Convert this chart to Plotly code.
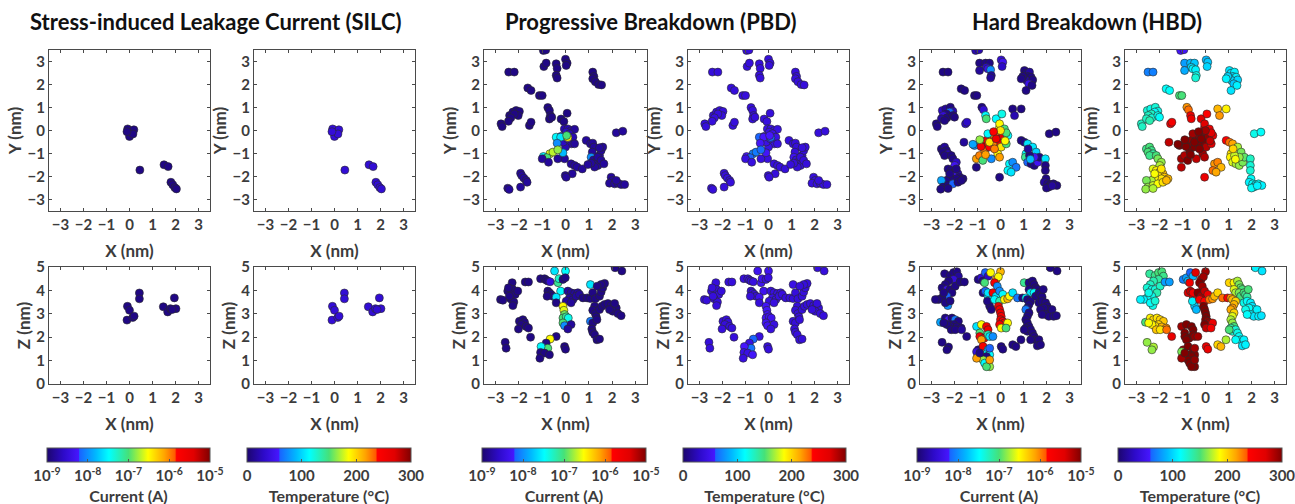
import plotly.graph_objects as go

# ---------------- data ----------------
# SILC
SILC_XY_X = [-0.08, 0.19, 0.00, 0.15, -0.11, 0.45, 1.50, 1.68, 1.80, 1.88, 1.97, 2.04]
SILC_XY_Y = [0.07, 0.03, -0.26, -0.15, -0.05, -1.72, -1.49, -1.57, -2.25, -2.36, -2.48, -2.54]
SILC_XY_I = [-8.9, -8.9, -8.9, -8.9, -8.9, -8.9, -8.9, -8.9, -8.9, -8.9, -8.9, -8.9]
SILC_XY_T = [38, 38, 38, 38, 38, 36, 36, 36, 36, 36, 36, 36]
SILC_XZ_X = [-0.09, 0.00, -0.11, 0.14, 0.20, 0.43, 0.43, 1.47, 1.66, 1.78, 1.95, 2.02, 1.85]
SILC_XZ_Z = [3.32, 3.15, 2.73, 2.84, 2.90, 3.89, 3.64, 3.30, 3.08, 3.22, 3.68, 3.22, 3.18]
SILC_XZ_I = [-8.9, -8.9, -8.9, -8.9, -8.9, -8.9, -8.9, -8.9, -8.9, -8.9, -8.9, -8.9, -8.9]
SILC_XZ_T = [38, 38, 38, 38, 38, 36, 36, 36, 36, 36, 36, 36, 36]

# PBD
PBD_XY_X = [-0.95, -0.85, -0.93, -0.83, -0.40, -0.36, -0.40, -0.36, 0.00, 0.07,
            0.03, -2.44, -2.20, -1.62, -1.48, -1.12, -1.00, 1.17, 1.22, 1.17,
            1.28, 1.42, 1.55, -2.77, -2.72, -2.40, -2.26, -2.12, -1.98, -2.03,
            -2.20, -2.35, -2.45, -1.55, -1.48, -0.76, -0.69, -0.65, -0.69, -0.59,
            -0.19, -0.07, 0.07, -0.05, 0.10, 0.25, 0.39, 0.03, 0.17, 0.32,
            0.25, 0.00, -0.10, -0.20, 0.08, 0.39, -0.04, -0.33, -0.40, -0.21,
            0.10, 0.05, -0.36, -0.11, -0.67, -0.54, -0.33, -0.95, -0.80, -1.00,
            -0.73, 0.24, 0.39, 0.50, 0.72, 0.29, -0.01, 0.03, 0.89, 1.07,
            1.17, 1.22, 1.15, 1.10, 1.20, 1.29, 1.39, 1.25, 1.46, 1.53,
            1.60, 1.46, 1.39, 1.53, 1.65, 1.10, 0.96, 2.18, 2.46, 1.96,
            2.03, 1.89, 2.11, 2.25, 2.39, 2.54, 2.18, -1.93, -1.88, -1.79,
            -1.69, -1.65, -2.48, -2.42, -1.93]
PBD_XY_Y = [3.48, 3.50, 2.78, 2.93, 2.90, 2.70, 2.40, 2.28, 3.10, 2.93,
            2.83, 2.54, 2.54, 1.85, 1.74, 1.52, 1.52, 2.54, 2.35, 2.25,
            2.12, 2.00, 1.98, 0.29, 0.17, 0.65, 0.80, 0.87, 0.83, 0.65,
            0.72, 0.55, 0.40, 0.22, 0.36, 1.00, 0.87, 0.65, 0.50, 0.58,
            0.50, 0.39, 0.75, 0.07, 0.07, 0.00, 0.05, -0.07, -0.14, -0.29,
            -0.58, -0.72, -0.50, -0.26, -0.36, -0.58, -1.23, -1.23, -0.29, -0.29,
            -0.30, -0.22, -0.55, -0.97, -1.01, -0.94, -0.84, -1.13, -1.18, -1.23,
            -1.38, -1.45, -1.52, -1.59, -1.67, -1.88, -1.96, -2.03, -0.43, -0.58,
            -0.55, -0.72, -0.94, -1.16, -1.28, -1.38, -1.52, -1.59, -1.09, -0.87,
            -0.72, -0.75, -1.16, -1.30, -1.45, -1.42, -1.48, -0.10, -0.03, -2.03,
            -2.17, -2.29, -2.32, -2.29, -2.35, -2.35, -2.17, -1.86, -1.96, -2.07,
            -2.17, -2.25, -2.51, -2.56, -2.46]
PBD_XY_I = [-8.9, -8.9, -8.9, -8.9, -8.9, -8.9, -8.9, -8.9, -8.9, -8.9,
            -8.9, -8.9, -8.9, -8.9, -8.9, -8.9, -8.9, -8.9, -8.9, -8.9,
            -8.9, -8.9, -8.9, -8.9, -8.9, -8.9, -8.9, -8.9, -8.9, -8.9,
            -8.9, -8.9, -8.9, -8.9, -8.9, -8.9, -8.9, -8.9, -8.9, -8.9,
            -8.9, -8.9, -8.9, -8.7, -8.7, -8.7, -8.8, -8.6, -8.7, -8.7,
            -8.7, -8.7, -8.6, -8.5, -8.6, -8.8, -8.8, -8.8, -7.5, -7.6,
            -6.5, -7.0, -8.0, -7.8, -6.6, -6.7, -6.8, -7.5, -7.0, -8.8,
            -8.8, -8.8, -8.8, -8.8, -8.8, -8.8, -8.8, -8.8, -8.8, -8.8,
            -8.8, -8.8, -8.8, -8.0, -8.8, -8.8, -8.8, -8.8, -8.8, -8.8,
            -8.8, -8.8, -8.8, -8.8, -8.8, -8.8, -8.8, -8.8, -8.8, -8.8,
            -8.8, -8.8, -8.8, -8.8, -8.8, -8.8, -8.8, -8.8, -8.8, -8.8,
            -8.8, -8.8, -8.8, -8.8, -8.8]
PBD_XY_T = [40, 40, 40, 40, 40, 40, 40, 40, 40, 40,
            40, 40, 40, 40, 40, 40, 40, 40, 40, 40,
            40, 40, 40, 40, 40, 40, 40, 40, 40, 40,
            40, 40, 40, 40, 40, 40, 40, 40, 40, 40,
            42, 42, 40, 45, 45, 45, 44, 46, 45, 45,
            45, 45, 46, 47, 46, 44, 42, 42, 60, 58,
            62, 58, 55, 55, 70, 68, 62, 58, 60, 42,
            42, 40, 40, 40, 40, 40, 40, 40, 40, 40,
            40, 40, 40, 50, 40, 40, 40, 40, 40, 40,
            40, 40, 40, 40, 40, 40, 40, 40, 40, 40,
            40, 40, 40, 40, 40, 40, 40, 40, 40, 40,
            40, 40, 40, 40, 40]
PBD_XZ_X = [-2.79, -2.69, -2.48, -2.29, -2.26, -2.16, -2.36, -2.22, -2.26, -2.41,
            -2.05, -2.45, -1.73, -1.59, -1.98, -1.83, -1.76, -1.90, -1.69, -1.59,
            -2.02, -1.50, -2.59, -2.55, -1.07, -0.90, -0.83, -0.76, -0.66, -0.47,
            0.00, -0.32, -0.28, -0.76, -0.69, -0.62, -0.54, -0.79, -0.21, -0.40,
            -0.40, -0.11, -0.01, 0.10, 0.24, 0.39, 0.53, 0.17, 0.32, 0.46,
            0.60, 0.03, 0.24, -0.11, -0.07, -0.04, -0.11, 0.03, 0.12, -0.11,
            -0.04, 0.24, 0.10, -0.40, -0.66, -0.83, -0.76, -1.05, -1.07, -0.90,
            -0.69, -1.10, -0.04, 0.00, 0.75, 0.93, 1.07, 1.07, 1.17, 1.28,
            1.46, 1.53, 1.60, 1.68, 1.53, 1.36, 1.25, 1.17, 1.28, 1.32,
            1.46, 1.56, 1.68, 1.82, 1.96, 2.08, 2.18, 2.11, 2.03, 1.89,
            2.25, 2.39, 1.07, 1.17, 1.13, 1.17, 1.25, 1.35, 1.46, 1.35,
            2.13, 2.42]
PBD_XZ_Z = [3.61, 3.58, 3.97, 4.33, 4.04, 3.83, 3.64, 3.50, 3.35, 3.75,
            3.97, 4.11, 4.36, 4.36, 2.68, 2.75, 2.64, 2.54, 2.46, 2.39,
            2.35, 2.00, 1.78, 1.53, 4.50, 4.50, 4.44, 4.40, 4.37, 4.83,
            4.83, 4.33, 4.50, 3.97, 3.90, 3.83, 3.75, 3.75, 3.97, 3.71,
            3.47, 4.47, 4.54, 3.97, 3.90, 3.87, 3.90, 3.68, 3.61, 3.75,
            3.83, 3.54, 3.47, 3.32, 3.15, 2.97, 2.82, 2.87, 2.82, 2.61,
            2.49, 2.54, 2.35, 2.03, 1.92, 1.75, 1.53, 1.60, 1.35, 1.32,
            1.25, 1.10, 1.60, 1.49, 3.68, 3.68, 3.65, 4.25, 3.90, 3.64,
            3.75, 3.93, 4.11, 4.30, 4.25, 4.18, 3.32, 3.15, 3.01, 2.87,
            3.18, 3.32, 3.40, 3.44, 3.35, 3.32, 3.25, 3.44, 3.11, 3.18,
            3.01, 2.92, 2.68, 2.61, 2.35, 2.21, 2.11, 1.89, 1.92, 2.75,
            4.97, 4.83]
PBD_XZ_I = [-8.9, -8.9, -8.9, -8.9, -8.9, -8.9, -8.9, -8.9, -8.9, -8.9,
            -8.9, -8.9, -8.9, -8.9, -8.9, -8.9, -8.9, -8.9, -8.9, -8.9,
            -8.9, -8.9, -8.9, -8.9, -8.9, -8.9, -8.9, -8.9, -8.5, -7.6,
            -7.5, -7.1, -7.3, -8.9, -8.9, -8.9, -8.9, -8.9, -7.5, -7.6,
            -8.9, -8.9, -8.9, -8.8, -8.8, -8.8, -8.8, -8.8, -8.8, -8.8,
            -8.8, -8.8, -8.8, -6.5, -6.6, -6.9, -7.0, -7.1, -7.4, -7.0,
            -8.0, -8.8, -8.8, -8.9, -6.5, -8.9, -7.0, -7.5, -8.9, -8.9,
            -8.9, -8.9, -8.9, -8.9, -8.9, -8.9, -8.9, -7.6, -8.9, -8.9,
            -8.9, -8.9, -8.9, -8.9, -8.9, -8.9, -8.9, -8.9, -8.9, -8.9,
            -8.9, -8.9, -8.9, -8.9, -8.9, -8.9, -8.9, -8.9, -8.9, -8.9,
            -8.9, -8.9, -8.1, -8.9, -8.9, -8.9, -8.9, -8.9, -8.9, -8.9,
            -8.9, -8.9]
PBD_XZ_T = [40, 40, 40, 40, 40, 40, 40, 40, 40, 40,
            40, 40, 40, 40, 40, 40, 40, 40, 40, 40,
            40, 40, 40, 40, 40, 40, 40, 40, 42, 50,
            50, 52, 50, 40, 40, 40, 40, 40, 50, 50,
            40, 42, 42, 42, 42, 42, 42, 42, 42, 42,
            42, 42, 42, 55, 55, 52, 52, 50, 50, 52,
            50, 42, 42, 42, 60, 45, 65, 58, 45, 45,
            55, 42, 40, 40, 40, 40, 40, 45, 40, 40,
            40, 40, 40, 40, 40, 40, 40, 40, 40, 40,
            40, 40, 40, 40, 40, 40, 40, 40, 40, 40,
            40, 40, 40, 40, 40, 40, 40, 40, 40, 40,
            40, 40]

# HBD
HBD_XY_X = [-1.08, -0.94, -0.91, -0.65, -0.48, -0.62, -0.55, -0.43, -0.40, -0.43,
            -0.91, 0.03, 0.10, 0.07, -2.50, -2.28, -1.71, -1.56, -1.13, -1.03,
            1.04, 1.11, 1.26, 1.19, 1.33, 1.04, 1.14, 1.40, 1.23, 1.11,
            1.37, 0.97, 0.90, -2.79, -2.75, -2.53, -2.38, -2.18, -2.07, -2.21,
            -2.35, -2.49, -2.33, -2.07, -2.00, -2.57, -2.43, -1.52, -1.46, -1.59,
            -0.81, -0.74, -0.65, -0.62, -0.19, 0.06, 0.53, 0.90, 0.61, -0.77,
            -0.62, -0.40, 0.03, 0.10, -0.12, -0.55, -0.33, -1.05, -0.91, -0.69,
            -0.48, -0.26, -0.04, -0.04, -0.48, -0.12, 0.03, -0.77, 0.25, -0.55,
            0.17, -0.40, -1.13, -0.04, -1.05, -0.26, -0.19, 0.32, 0.25, -0.85,
            0.00, -0.30, 0.20, -0.65, -0.90, -1.20, -0.04, 0.39, 0.53, 0.68,
            0.32, 0.46, 0.90, 1.04, 1.18, 1.40, 1.55, 1.11, 1.08, 1.18,
            1.33, 1.47, 1.62, 1.69, 1.47, 1.95, 1.95, 1.95, 1.26, 1.20,
            1.30, 2.12, 2.41, 1.98, 1.90, 2.05, 2.18, 2.30, 2.45, 2.10,
            2.00, 2.25, -2.57, -2.43, -2.35, -2.50, -2.28, -2.43, -2.14, -2.07,
            -1.92, -1.99, -2.28, -2.14, -1.99, -1.85, -1.78, -1.63, -2.07, -1.92,
            -2.21, -2.35, -2.57, -2.50, -2.28, -2.07, -1.85, -1.70, -2.21, -1.92,
            -2.60, -2.28]
HBD_XY_Y = [3.48, 3.51, 2.93, 2.93, 2.93, 2.75, 2.68, 2.64, 2.39, 2.29,
            2.61, 3.07, 2.97, 2.78, 2.54, 2.54, 1.81, 1.74, 1.52, 1.52,
            2.61, 2.49, 2.54, 2.35, 2.32, 2.29, 2.17, 2.20, 2.03, 1.74,
            1.96, 2.35, 2.25, 0.29, 0.17, 0.87, 0.94, 1.01, 0.84, 0.80,
            0.72, 0.65, 0.55, 0.65, 0.58, 0.51, 0.43, 0.29, 0.36, -0.51,
            1.01, 0.90, 0.65, 0.51, 0.51, 0.72, 0.94, 0.94, 0.65, -0.51,
            -0.43, -0.36, -0.14, -0.29, -0.51, -0.65, -0.58, -1.23, -1.09, -0.87,
            -0.72, -0.22, 0.14, 0.29, -0.51, -1.01, -0.72, -1.30, -0.58, -0.14,
            0.07, -1.23, -0.65, -1.16, -1.60, -0.80, -0.36, -0.22, -0.10, -0.70,
            0.00, -0.05, -0.45, -1.05, -0.40, -0.60, -2.03, -1.45, -1.38, -1.60,
            -1.74, -1.81, -0.43, -0.51, -0.58, -0.72, -0.94, -1.01, -1.16, -1.38,
            -1.45, -1.52, -1.38, -1.16, -1.16, -1.23, -1.52, -1.74, -1.09, -0.80,
            -1.25, -0.14, -0.07, -2.10, -2.25, -2.32, -2.35, -2.32, -2.39, -2.46,
            -2.50, -2.40, -0.80, -0.72, -0.87, -0.94, -1.01, -1.09, -1.09, -1.23,
            -1.38, -1.52, -1.67, -1.74, -1.81, -1.88, -2.03, -2.10, -1.96, -2.10,
            -2.03, -2.17, -2.17, -2.46, -2.39, -2.32, -2.25, -2.17, -1.88, -1.67,
            -2.55, -2.52]
HBD_XY_I = [-8.7, -8.7, -8.9, -8.9, -8.9, -8.6, -8.4, -8.0, -8.8, -8.8,
            -8.8, -8.5, -8.3, -8.6, -8.9, -8.9, -8.9, -8.9, -8.9, -8.9,
            -8.9, -8.9, -8.8, -8.9, -8.9, -8.9, -8.8, -8.9, -8.4, -8.9,
            -8.9, -8.9, -8.9, -8.9, -8.9, -8.6, -8.8, -8.9, -8.7, -8.2,
            -8.9, -8.5, -8.9, -8.9, -8.9, -8.8, -8.9, -8.6, -8.6, -8.8,
            -8.9, -8.5, -7.5, -7.0, -7.5, -7.4, -8.9, -8.9, -8.7, -5.7,
            -5.6, -5.5, -5.7, -5.5, -5.6, -5.7, -6.0, -6.1, -6.0, -6.0,
            -5.8, -6.1, -6.5, -6.5, -6.4, -6.5, -6.4, -7.0, -7.0, -7.5,
            -7.0, -8.0, -8.0, -6.1, -8.9, -6.0, -5.6, -7.5, -7.0, -5.7,
            -6.4, -5.8, -6.5, -6.1, -6.8, -7.9, -8.9, -7.5, -8.0, -8.1,
            -7.5, -7.6, -8.9, -8.9, -7.6, -7.6, -7.7, -7.5, -7.1, -8.2,
            -8.9, -8.9, -8.3, -8.9, -8.3, -7.6, -8.9, -8.9, -8.9, -8.8,
            -7.8, -8.9, -8.9, -8.9, -8.8, -8.9, -8.9, -8.9, -8.9, -8.9,
            -8.9, -8.8, -8.9, -8.8, -8.9, -8.9, -8.7, -8.9, -8.9, -8.9,
            -8.6, -8.3, -8.9, -8.9, -8.9, -8.7, -8.9, -8.9, -8.4, -8.9,
            -8.9, -8.9, -7.9, -8.9, -8.9, -8.2, -8.9, -8.9, -8.9, -8.9,
            -8.9, -8.9]
HBD_XY_T = [55, 55, 80, 90, 95, 100, 110, 110, 120, 125,
            85, 90, 95, 100, 70, 70, 115, 115, 150, 150,
            105, 105, 110, 100, 110, 105, 100, 100, 95, 105,
            110, 100, 110, 130, 130, 125, 120, 125, 120, 115,
            130, 130, 125, 120, 115, 130, 135, 250, 250, 280,
            220, 230, 255, 260, 270, 240, 210, 190, 220, 290,
            295, 300, 290, 295, 300, 295, 300, 290, 285, 300,
            300, 295, 280, 270, 300, 290, 285, 300, 270, 290,
            260, 280, 300, 285, 280, 300, 300, 260, 270, 300,
            290, 300, 280, 300, 300, 300, 260, 220, 225, 210,
            230, 215, 240, 230, 215, 170, 160, 195, 190, 180,
            170, 165, 160, 155, 165, 130, 125, 125, 175, 200,
            185, 120, 115, 115, 110, 115, 110, 115, 110, 110,
            115, 110, 145, 150, 145, 150, 140, 145, 150, 160,
            165, 170, 180, 190, 200, 210, 205, 210, 200, 195,
            190, 170, 160, 165, 175, 185, 195, 210, 185, 195,
            165, 170]
HBD_XZ_X = [-2.43, -2.19, -2.04, -1.90, -1.83, -2.04, -2.26, -2.40, -2.54, -2.33,
            -2.19, -1.97, -2.11, -2.33, -2.54, -2.69, -2.83, -2.29, -2.40, -2.19,
            -2.47, -1.76, -1.57, -2.61, -2.40, -2.26, -2.11, -1.97, -1.83, -2.04,
            -2.19, -1.90, -1.71, -2.33, -2.47, -2.14, -1.97, -1.69, -1.47, -2.54,
            -2.26, -2.33, -0.97, -0.83, -0.76, -0.66, -0.54, -0.43, -0.69, -0.76,
            -0.66, -0.54, -0.50, -0.47, -0.57, -0.40, -0.54, 0.00, -0.19, -0.09,
            -0.26, -0.14, -0.33, -0.19, -0.04, 0.10, -0.26, -0.04, 0.17, 0.31,
            0.39, 0.53, -0.09, -0.04, 0.00, 0.03, 0.00, 0.10, 0.17, -0.04,
            0.03, 0.31, 0.24, -1.04, -0.83, -0.61, -0.54, -0.90, -0.90, -0.71,
            -0.54, -0.47, -0.33, -0.83, -0.97, -1.04, -0.76, -0.54, -0.69, -0.47,
            -0.61, -0.76, -0.69, -0.47, -0.61, -0.47, -1.04, -0.90, -0.47, 0.03,
            0.10, 0.53, 0.67, 0.89, 1.03, 1.24, 1.39, 1.46, 1.53, 1.60,
            1.24, 1.31, 1.46, 1.53, 1.67, 1.74, 1.81, 1.86, 0.74, 0.96,
            1.10, 1.17, 1.31, 1.24, 1.17, 1.10, 1.24, 1.17, 1.10, 1.17,
            1.24, 1.10, 1.17, 1.31, 1.39, 1.46, 1.53, 1.31, 1.03, 1.67,
            1.81, 1.96, 2.03, 2.10, 1.89, 1.74, 1.96, 2.10, 2.24, 1.81,
            2.31, 2.43, 2.17, 2.46, 1.67, 1.60, 1.74]
HBD_XZ_Z = [4.71, 4.64, 4.76, 4.80, 4.61, 4.47, 4.40, 4.25, 4.11, 4.04,
            4.04, 4.18, 3.90, 3.75, 3.68, 3.61, 3.61, 3.35, 3.47, 3.55,
            3.90, 4.36, 4.36, 2.64, 2.82, 2.75, 2.82, 2.75, 2.68, 2.54,
            2.47, 2.44, 2.39, 2.54, 2.61, 2.32, 2.32, 2.32, 2.03, 1.78,
            1.58, 1.46, 4.47, 4.54, 4.40, 4.76, 4.61, 4.76, 4.33, 3.90,
            3.97, 3.75, 3.47, 3.32, 3.54, 3.18, 3.90, 4.80, 4.47, 4.58,
            4.33, 4.18, 3.90, 3.75, 3.97, 3.83, 3.61, 3.54, 3.61, 3.64,
            3.75, 3.90, 3.32, 3.18, 3.04, 2.89, 2.75, 2.68, 2.61, 2.54,
            2.39, 2.61, 2.39, 2.46, 2.54, 2.46, 2.32, 2.18, 2.03, 1.96,
            2.11, 2.03, 2.03, 1.89, 1.46, 1.38, 1.61, 1.46, 1.25, 1.25,
            1.17, 1.03, 0.89, 0.74, 0.74, 1.03, 1.10, 1.32, 1.53, 1.60,
            1.49, 1.68, 1.60, 1.89, 4.33, 4.33, 4.40, 4.25, 4.11, 4.04,
            4.04, 3.90, 3.90, 3.75, 3.90, 3.82, 3.72, 4.04, 3.68, 3.68,
            3.68, 3.61, 3.54, 3.40, 3.25, 3.18, 3.04, 2.89, 2.75, 2.61,
            2.46, 2.39, 2.25, 2.32, 2.18, 2.03, 1.89, 1.89, 2.32, 3.47,
            3.54, 3.47, 3.32, 3.18, 3.25, 3.18, 2.97, 2.89, 3.18, 2.97,
            2.89, 2.92, 4.97, 4.83, 1.89, 1.63, 1.68]
HBD_XZ_I = [-8.9, -8.9, -8.9, -8.9, -8.8, -8.5, -8.9, -8.9, -8.9, -8.4,
            -8.9, -8.9, -8.9, -8.2, -8.9, -8.9, -8.9, -8.0, -8.9, -8.9,
            -8.9, -8.9, -8.9, -7.9, -8.9, -8.3, -8.9, -8.1, -8.9, -8.9,
            -8.9, -8.9, -8.9, -8.9, -8.9, -8.9, -8.9, -8.8, -8.9, -8.9,
            -8.9, -8.9, -8.9, -8.5, -8.9, -8.2, -8.6, -6.5, -7.0, -8.9,
            -8.2, -7.6, -8.9, -8.9, -8.9, -8.9, -7.6, -6.2, -6.1, -6.5,
            -5.7, -8.0, -5.7, -7.6, -8.0, -7.5, -7.5, -7.2, -6.5, -6.2,
            -6.5, -7.6, -5.6, -5.7, -5.6, -5.7, -5.6, -5.8, -5.7, -5.7,
            -6.5, -6.5, -7.0, -7.6, -6.5, -5.7, -5.6, -7.0, -5.7, -5.7,
            -7.2, -7.6, -8.0, -6.1, -8.9, -8.5, -5.7, -7.8, -7.5, -7.5,
            -8.9, -6.8, -7.5, -6.8, -7.0, -6.1, -6.1, -8.9, -8.2, -8.9,
            -8.9, -8.9, -8.9, -8.9, -7.1, -8.9, -8.9, -8.9, -8.9, -8.9,
            -8.9, -7.6, -7.5, -8.9, -8.9, -8.9, -8.9, -8.9, -8.1, -8.9,
            -7.6, -8.9, -8.9, -8.9, -8.9, -8.1, -8.9, -8.9, -8.9, -8.9,
            -8.9, -8.9, -8.9, -8.9, -8.9, -8.9, -8.9, -8.9, -8.9, -8.9,
            -8.9, -8.9, -8.9, -8.9, -8.9, -8.9, -8.9, -8.9, -8.9, -8.9,
            -8.9, -8.9, -8.9, -8.9, -8.9, -8.9, -8.9]
HBD_XZ_T = [140, 145, 150, 150, 145, 140, 135, 130, 125, 120,
            125, 130, 135, 120, 115, 110, 110, 120, 115, 125,
            120, 80, 80, 150, 190, 200, 195, 200, 205, 200,
            195, 210, 220, 190, 185, 205, 195, 230, 260, 165,
            170, 165, 70, 80, 90, 60, 90, 270, 250, 270,
            280, 260, 100, 95, 110, 90, 250, 290, 285, 290,
            300, 290, 300, 290, 280, 260, 250, 240, 230, 220,
            210, 200, 300, 300, 300, 300, 300, 295, 290, 300,
            280, 260, 250, 290, 300, 300, 300, 300, 300, 300,
            300, 295, 290, 300, 290, 160, 300, 300, 300, 300,
            300, 300, 300, 300, 300, 295, 290, 300, 290, 260,
            260, 200, 210, 170, 200, 190, 170, 160, 155, 150,
            180, 170, 160, 150, 150, 145, 140, 150, 230, 240,
            220, 210, 200, 210, 220, 215, 200, 180, 170, 165,
            150, 140, 130, 125, 120, 115, 110, 115, 150, 120,
            115, 110, 105, 110, 115, 120, 110, 105, 110, 115,
            110, 105, 110, 105, 110, 105, 110]

GROUP_TITLES = ["Stress-induced Leakage Current (SILC)", "Progressive Breakdown (PBD)", "Hard Breakdown (HBD)"]
CURRENT_TICKS = [-9, -8, -7, -6, -5]
CURRENT_TICKTEXT = ["10<sup>-9</sup>", "10<sup>-8</sup>", "10<sup>-7</sup>", "10<sup>-6</sup>", "10<sup>-5</sup>"]
TEMP_TICKS = [0, 100, 200, 300]
XY_TICKS = [-3, -2, -1, 0, 1, 2, 3]
Z_TICKS = [0, 1, 2, 3, 4, 5]

# consistency check
for name, grp in [("SILC_XY", [SILC_XY_X, SILC_XY_Y, SILC_XY_I, SILC_XY_T]),
                  ("SILC_XZ", [SILC_XZ_X, SILC_XZ_Z, SILC_XZ_I, SILC_XZ_T]),
                  ("PBD_XY", [PBD_XY_X, PBD_XY_Y, PBD_XY_I, PBD_XY_T]),
                  ("PBD_XZ", [PBD_XZ_X, PBD_XZ_Z, PBD_XZ_I, PBD_XZ_T]),
                  ("HBD_XY", [HBD_XY_X, HBD_XY_Y, HBD_XY_I, HBD_XY_T]),
                  ("HBD_XZ", [HBD_XZ_X, HBD_XZ_Z, HBD_XZ_I, HBD_XZ_T])]:
    lens = [len(a) for a in grp]
    if len(set(lens)) != 1:
        raise SystemExit(f"{name} length mismatch {lens}")

# ---------------- styling ----------------
W, H = 1295, 504
FONT = "Lato"
TXT = "#3c3c3c"
JET = [[0.0, "rgb(28,6,110)"], [0.1, "rgb(45,10,200)"], [0.195, "rgb(70,22,255)"],
       [0.2, "rgb(25,100,255)"], [0.3, "rgb(0,185,255)"], [0.38, "rgb(0,255,255)"],
       [0.5, "rgb(70,225,120)"], [0.62, "rgb(255,255,0)"], [0.72, "rgb(255,165,0)"],
       [0.785, "rgb(255,90,0)"], [0.795, "rgb(255,0,0)"], [0.9, "rgb(225,0,0)"],
       [1.0, "rgb(128,0,0)"]]

COLS = [(49, 210), (254, 415), (484, 647), (688, 849), (920, 1081), (1125, 1286)]
TOP = (50, 211)
BOT = (267, 384)
CBAR = [(47, 210), (247, 411), (482, 646), (683, 846), (917, 1081), (1118, 1282)]
CB_Y = 448
TITLE_X = [216, 651, 1087]

def xd(a, b):
    return [a / W, b / W]

def yd(a, b):
    return [1 - b / H, 1 - a / H]

panels = [
    (SILC_XY_X, SILC_XY_Y, SILC_XY_I, SILC_XZ_X, SILC_XZ_Z, SILC_XZ_I, "I"),
    (SILC_XY_X, SILC_XY_Y, SILC_XY_T, SILC_XZ_X, SILC_XZ_Z, SILC_XZ_T, "T"),
    (PBD_XY_X, PBD_XY_Y, PBD_XY_I, PBD_XZ_X, PBD_XZ_Z, PBD_XZ_I, "I"),
    (PBD_XY_X, PBD_XY_Y, PBD_XY_T, PBD_XZ_X, PBD_XZ_Z, PBD_XZ_T, "T"),
    (HBD_XY_X, HBD_XY_Y, HBD_XY_I, HBD_XZ_X, HBD_XZ_Z, HBD_XZ_I, "I"),
    (HBD_XY_X, HBD_XY_Y, HBD_XY_T, HBD_XZ_X, HBD_XZ_Z, HBD_XZ_T, "T"),
]

fig = go.Figure()
layout = dict(width=W, height=H, margin=dict(l=0, r=0, t=0, b=0, autoexpand=False),
              paper_bgcolor="white", plot_bgcolor="white", showlegend=False,
              font=dict(family=FONT, color=TXT))

axis_common = dict(showline=True, linecolor="#4a4a4a", linewidth=1, mirror="ticks",
                   ticks="inside", ticklen=3, tickcolor="#4a4a4a", showgrid=False,
                   zeroline=False, fixedrange=True, automargin=False,
                   tickfont=dict(family=FONT, size=15, color=TXT, weight="bold"))
title_font = dict(family=FONT, size=17, color=TXT, weight="bold")

for c, (xx, yy, vxy, xz, zz, vxz, kind) in enumerate(panels):
    ca = "coloraxis" if c == 0 else f"coloraxis{c+1}"
    it = c + 1
    ib = c + 7
    mk = dict(size=8, line=dict(width=0.6, color="#2a2a2a"), coloraxis=ca)
    fig.add_trace(go.Scatter(x=xx, y=yy, mode="markers", marker=dict(color=vxy, **mk),
                             xaxis=f"x{it}", yaxis=f"y{it}", hoverinfo="skip"))
    fig.add_trace(go.Scatter(x=xz, y=zz, mode="markers", marker=dict(color=vxz, **mk),
                             xaxis=f"x{ib}", yaxis=f"y{ib}", hoverinfo="skip"))
    a, b = COLS[c]
    for idx, yrow, ylab, yr, yt in [(it, TOP, "Y (nm)", [-3.5, 3.5], XY_TICKS),
                                   (ib, BOT, "Z (nm)", [0, 5], Z_TICKS)]:
        xn = "xaxis" if idx == 1 else f"xaxis{idx}"
        yn = "yaxis" if idx == 1 else f"yaxis{idx}"
        layout[xn] = dict(domain=xd(a, b), anchor=f"y{idx}", range=[-3.5, 3.5],
                          tickvals=XY_TICKS, title=dict(text="X (nm)", font=title_font, standoff=13),
                          **axis_common)
        layout[yn] = dict(domain=yd(*yrow), anchor=f"x{idx}", range=yr,
                          tickvals=yt, title=dict(text=ylab, font=title_font, standoff=1),
                          **axis_common)
    ca0, ca1 = CBAR[c]
    if kind == "I":
        cb_extra = dict(tickvals=CURRENT_TICKS, ticktext=CURRENT_TICKTEXT,
                        title=dict(text="Current (A)", side="bottom",
                                   font=dict(family=FONT, size=16, color=TXT, weight="bold")))
        cmin, cmax = -9, -5
    else:
        cb_extra = dict(tickvals=TEMP_TICKS,
                        title=dict(text="Temperature (°C)", side="bottom",
                                   font=dict(family=FONT, size=16, color=TXT, weight="bold")))
        cmin, cmax = 0, 300
    layout[ca] = dict(colorscale=JET, cmin=cmin, cmax=cmax,
                      colorbar=dict(orientation="h", x=(ca0 + ca1) / 2 / W, xanchor="center",
                                    y=1 - CB_Y / H, yanchor="top", len=(ca1 - ca0) / W,
                                    lenmode="fraction", thickness=14, xpad=0, ypad=0,
                                    outlinewidth=1, outlinecolor="#555555",
                                    ticks="inside", ticklen=3, tickcolor="#555555",
                                    ticklabeloverflow="allow",
                                    tickfont=dict(family=FONT, size=15, color=TXT, weight="bold"),
                                    **cb_extra))

annotations = []
for tx, t in zip(TITLE_X, GROUP_TITLES):
    annotations.append(dict(text=t, x=tx / W, y=1 - 22 / H, xref="paper", yref="paper",
                            xanchor="center", yanchor="middle", showarrow=False,
                            font=dict(family=FONT, size=22, color="#111111", weight="bold")))
layout["annotations"] = annotations
fig.update_layout(**layout)
fig.write_html("out.html", config={"displayModeBar": False},
               post_script="document.body.style.margin='0px';")
